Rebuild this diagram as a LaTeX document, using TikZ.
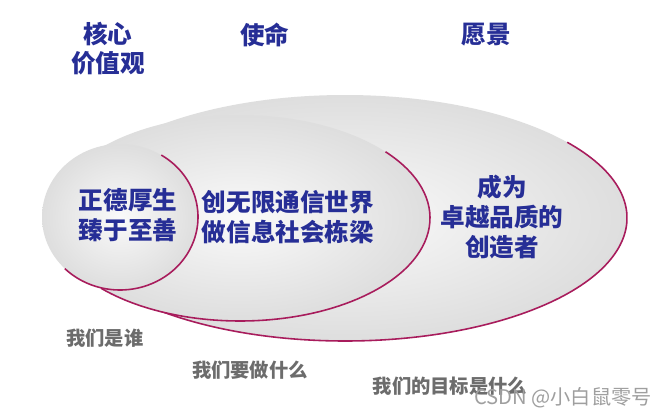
\documentclass[tikz,border=0pt]{standalone}
\usepackage{fontspec}
\usepackage{xcolor}
\usepackage{tikz}
\usetikzlibrary{positioning}
\newfontfamily\cjk{Noto Sans CJK SC}
\definecolor{textblue}{RGB}{38,46,150}
\definecolor{rimred}{RGB}{168,28,92}
\definecolor{labelgray}{RGB}{108,108,108}

\begin{document}
\begin{tikzpicture}[x=0.02cm,y=0.02cm,
  head/.style={font=\cjk\bfseries\fontsize{14}{16.5}\selectfont,text=textblue,align=center,inner sep=0pt},
  motto/.style={font=\cjk\bfseries\fontsize{14}{17}\selectfont,text=textblue,align=center,inner sep=0pt},
  ask/.style={font=\cjk\bfseries\fontsize{11}{13}\selectfont,text=labelgray,inner sep=0pt},
  disc/.style={inner color=gray!4,outer color=gray!26},
  rim/.style={draw=rimred,line width=0.9pt}]
\useasboundingbox (0,0) rectangle (664,414);
\fill[white] (0,0) rectangle (664,414);
% ellipses
\coordinate (vision) at (345,196);
\coordinate (mission) at (240,196);
\coordinate (core) at (120,197);
\shade[disc] (vision) ellipse[x radius=282,y radius=123];
\draw[rim] (vision) ++(38:282 and 123) arc[start angle=38,end angle=-135,x radius=282,y radius=123];
\shade[disc] (mission) ellipse[x radius=190,y radius=103];
\draw[rim] (mission) ++(40:190 and 103) arc[start angle=40,end angle=-137,x radius=190,y radius=103];
\shade[disc] (core) ellipse[x radius=78,y radius=73];
\draw[rim] (core) ++(58:78 and 73) arc[start angle=58,end angle=-135,x radius=78,y radius=73];
% headings
\node[head] (corehead) at (108,365.5) {核心\\价值观};
\node[head] (missionhead) at (265,379) {使命};
\node[head] (visionhead) at (486,379) {愿景};
% texts inside
\node[motto] (coretext) at (128,199) {正德厚生\\臻于至善};
\node[motto] (missiontext) at (288,197) {创无限通信世界\\做信息社会栋梁};
\node[motto] (visiontext) at (502,197) {成为\\卓越品质的\\创造者};
% questions
\node[ask] (who) at (105,76) {我们是谁};
\node[ask] (what) at (250,44) {我们要做什么};
\node[ask] (goal) at (450,28) {我们的目标是什么};
\node[font=\cjk\fontsize{11.5}{13}\selectfont,text=gray!75,inner sep=0pt] (mark) at (563,16) {CSDN @小白鼠零号};
\end{tikzpicture}
\end{document}
